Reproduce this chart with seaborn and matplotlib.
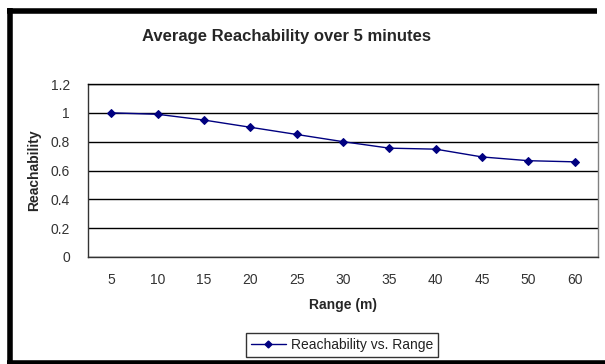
import matplotlib
matplotlib.use("Agg")
import matplotlib.pyplot as plt
import seaborn as sns
import pandas as pd
import numpy as np
from matplotlib.lines import Line2D
from matplotlib.ticker import FixedLocator

ranges = ["5", "10", "15", "20", "25", "30", "35", "40", "45", "50", "60"]
reachability = [1.0, 0.99, 0.95, 0.90, 0.85, 0.80, 0.755, 0.748, 0.694, 0.668, 0.66]
y_ticks = [0, 0.2, 0.4, 0.6, 0.8, 1, 1.2]
y_tick_labels = ["0", "0.2", "0.4", "0.6", "0.8", "1", "1.2"]

sns.set_style("white")
plt.rcParams["font.family"] = ["Liberation Sans", "DejaVu Sans"]

df = pd.DataFrame({"pos": np.arange(len(ranges)), "Range": ranges, "Reachability": reachability})

W, H = 605, 364
fig = plt.figure(figsize=(W / 100, H / 100), dpi=100)
ax = fig.add_axes([88 / W, 1 - 257 / H, (598 - 88) / W, (257 - 84) / H])

sns.lineplot(data=df, x="pos", y="Reachability", ax=ax, color="#000080", lw=1,
             marker="D", markersize=4.5, markeredgecolor="#000080", markerfacecolor="#000080")

ax.set_xlim(-0.5, len(ranges) - 0.5)
ax.set_ylim(0, 1.2)
ax.set_yticks(y_ticks)
ax.set_yticklabels(y_tick_labels)
ax.set_xticks(np.arange(len(ranges)))
ax.set_xticklabels(ranges)
ax.xaxis.set_minor_locator(FixedLocator(np.arange(-0.5, len(ranges), 1.0)))
ax.tick_params(axis="x", which="major", length=0, pad=11.5, labelsize=10, colors="#333333")
ax.tick_params(axis="x", which="minor", length=5, width=1, color="#333333", direction="out")
ax.tick_params(axis="y", which="major", length=5, width=1, color="#333333", direction="out",
               pad=8, labelsize=10, labelcolor="#333333")
ax.grid(axis="y", color="black", lw=1)
ax.set_axisbelow(True)

for s in ["left", "bottom"]:
    ax.spines[s].set_color("#333333")
    ax.spines[s].set_linewidth(1)
ax.spines["top"].set_color("black")
ax.spines["right"].set_color("#808080")
ax.spines["top"].set_linewidth(1)
ax.spines["right"].set_linewidth(1)

ax.set_xlabel("Range (m)", fontsize=10, fontweight="bold", labelpad=8)
ax.set_ylabel("Reachability", fontsize=10, fontweight="bold", labelpad=7)

fig.text(286 / W, 1 - 37 / H, "Average Reachability over 5 minutes", ha="center", va="center",
         fontsize=12, fontweight="bold")

handle = Line2D([], [], color="#000080", lw=1, marker="D", markersize=3.5,
                markerfacecolor="#000080", markeredgecolor="#000080")
leg = fig.legend([handle], ["Reachability vs. Range"], loc="center",
                 bbox_to_anchor=(342 / W, 1 - 345 / H), frameon=True, fancybox=False,
                 fontsize=10, handlelength=2.5, handletextpad=0.35, borderpad=0.35,
                 borderaxespad=0.0)
leg.get_frame().set_edgecolor("black")
leg.get_frame().set_linewidth(1)
for t in leg.get_texts():
    t.set_color("#222222")

# thick outer border
lw = 4.0
fig.add_artist(Line2D([7 / W, 597 / W], [1 - 10.5 / H, 1 - 10.5 / H], transform=fig.transFigure,
                      color="black", lw=lw, solid_capstyle="butt"))
fig.add_artist(Line2D([9.5 / W, 9.5 / W], [1 - 8 / H, 0], transform=fig.transFigure,
                      color="black", lw=lw, solid_capstyle="butt"))
fig.add_artist(Line2D([7 / W, 1], [1 - 362.5 / H, 1 - 362.5 / H], transform=fig.transFigure,
                      color="black", lw=lw, solid_capstyle="butt"))

fig.savefig("out.png", dpi=100)
